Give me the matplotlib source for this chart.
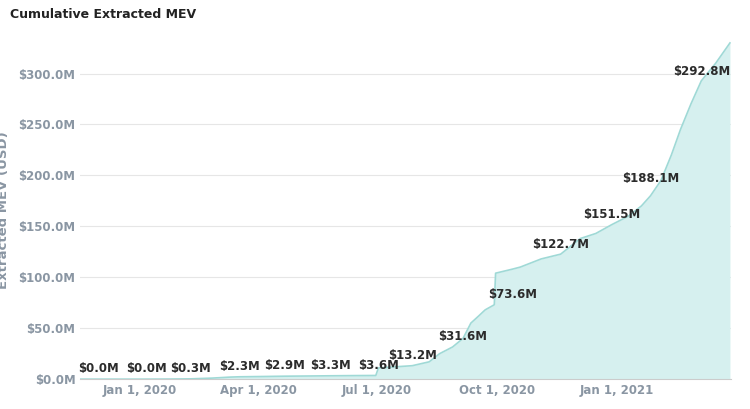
import matplotlib
matplotlib.use("Agg")
import matplotlib.pyplot as plt
import matplotlib.dates as mdates
import pandas as pd

# cumulative series (date, USD millions)
dates = ["2019-11-16","2019-12-20","2020-01-05","2020-01-25","2020-02-09","2020-02-25","2020-03-10",
         "2020-03-17","2020-04-05","2020-04-21","2020-05-10","2020-05-26","2020-06-15","2020-06-30",
         "2020-07-02","2020-07-28","2020-08-10","2020-08-18","2020-08-28","2020-09-05","2020-09-11",
         "2020-09-17","2020-09-22","2020-09-29","2020-09-30","2020-10-13","2020-10-19","2020-11-04",
         "2020-11-19","2020-12-04","2020-12-16","2020-12-28","2021-01-10","2021-01-20","2021-01-27",
         "2021-02-04","2021-02-12","2021-02-19","2021-02-27","2021-03-07","2021-03-18","2021-03-29"]
values = [0.0,0.0,0.0,0.1,0.3,1.0,2.0,2.3,2.6,2.9,3.1,3.3,3.5,3.6,
          11.0,13.2,17.0,25.0,31.6,40.0,55.0,62.0,68.0,73.0,104.0,108.0,110.0,118.0,
          122.7,138.0,143.0,151.5,160.0,170.0,180.0,195.0,220.0,245.0,270.0,292.8,310.0,330.0]

# annotated labels
label_dates = ["2019-11-30","2020-01-06","2020-02-09","2020-03-17","2020-04-21","2020-05-26",
               "2020-07-02","2020-07-28","2020-09-05","2020-10-13","2020-11-19","2020-12-28",
               "2021-01-27","2021-03-07"]
label_values = [0.0,0.0,0.3,2.3,2.9,3.3,3.6,13.2,31.6,73.6,122.7,151.5,188.1,292.8]
label_y = [3.6,3.6,3.6,5.6,6.6,7.0,7.4,17.0,35.0,77.0,126.0,155.0,191.0,296.0]

x = pd.to_datetime(dates)
fig = plt.figure(figsize=(7.5, 4.09), dpi=100)
ax = fig.add_axes([0.107, 0.073, 0.868, 0.827])
ax.fill_between(x, values, color="#d6f0ef", lw=0)
ax.plot(x, values, color="#9fd9d6", lw=1.2)
for d, v, yy in zip(label_dates, label_values, label_y):
    ax.text(pd.Timestamp(d), yy, f"${v:.1f}M", ha="center", va="bottom",
            fontsize=8.5, fontweight="bold", color="#2b2b2b")

ax.set_xlim(pd.Timestamp("2019-11-16"), pd.Timestamp("2021-03-30"))
ax.set_ylim(0, 332)
ax.set_yticks(range(0, 301, 50))
ax.set_yticklabels([f"${v:.1f}M" for v in range(0, 301, 50)])
ax.xaxis.set_major_locator(mdates.MonthLocator(bymonth=[1,4,7,10]))
ax.xaxis.set_major_formatter(mdates.DateFormatter("%b %-d, %Y"))
ax.tick_params(colors="#8a96a3", labelsize=8.5, length=0)
for t in ax.get_xticklabels() + ax.get_yticklabels():
    t.set_fontweight("bold")
ax.grid(axis="y", color="#e6e6e6", lw=0.8)
ax.set_axisbelow(True)
for s in ["top", "right", "left"]:
    ax.spines[s].set_visible(False)
ax.spines["bottom"].set_color("#cccccc")
ax.set_ylabel("Extracted MEV (USD)", color="#8a96a3", fontsize=9.5, fontweight="bold", labelpad=6)
fig.text(0.013, 0.955, "Cumulative Extracted MEV", fontsize=9, fontweight="bold", color="#222222")
fig.savefig("out.png", dpi=100, facecolor="white")
